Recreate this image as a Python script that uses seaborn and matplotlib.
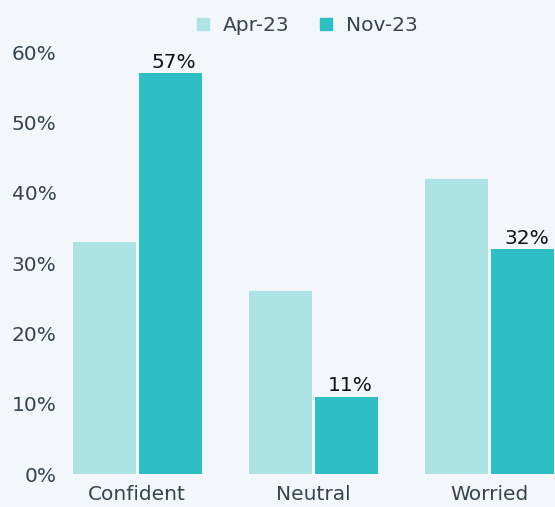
import pandas as pd
import matplotlib.pyplot as plt
import seaborn as sns

# Data
categories = ['Confident', 'Neutral', 'Worried']
apr_23 = [33, 26, 42]
nov_23 = [57, 11, 32]
periods = ['Apr-23', 'Nov-23']

df = pd.DataFrame({
    'Sentiment': categories * 2,
    'Period': [periods[0]] * 3 + [periods[1]] * 3,
    'Share': apr_23 + nov_23,
})

bg = '#f3f6fb'
text_col = '#36444f'
colors = {'Apr-23': '#ace4e6', 'Nov-23': '#2ebfc4'}

sns.set_theme(style='white')
plt.rcParams['font.family'] = ['DejaVu Sans']

fig = plt.figure(figsize=(5.55, 5.07), dpi=100, facecolor=bg)
ax = fig.add_axes([0.117, 0.065, 0.883, 0.832], facecolor=bg)

sns.barplot(data=df, x='Sentiment', y='Share', hue='Period', palette=colors,
            width=0.75, gap=0.05, ax=ax, legend=False, saturation=1,
            linewidth=0)

# Labels on the Nov-23 bars only
for i, v in enumerate(nov_23):
    ax.text(i + 0.21, v + 0.2, f'{v}%', ha='center', va='bottom',
            fontsize=14.5, color='#111111')

ax.set_xlim(-0.41, 2.37)
ax.set_ylim(0, 60)
ax.set_yticks(range(0, 61, 10))
ax.set_yticklabels([f'{t}%' for t in range(0, 61, 10)])
ax.tick_params(axis='both', length=0, labelsize=14.5, colors=text_col)
ax.tick_params(axis='y', pad=6)
ax.tick_params(axis='x', pad=8)
ax.set_xlabel('')
ax.set_ylabel('')
sns.despine(ax=ax, left=True, bottom=True)

# Legend on top
handles = [plt.Line2D([], [], marker='s', linestyle='', markersize=8,
                      color=colors[p]) for p in periods]
fig.legend(handles, periods, loc='upper center', bbox_to_anchor=(0.55, 1.005),
           ncol=2, frameon=False, fontsize=14.5, labelcolor=text_col,
           handletextpad=0.5, columnspacing=1.3, handlelength=1)

fig.savefig('out.png', dpi=100, facecolor=bg)
